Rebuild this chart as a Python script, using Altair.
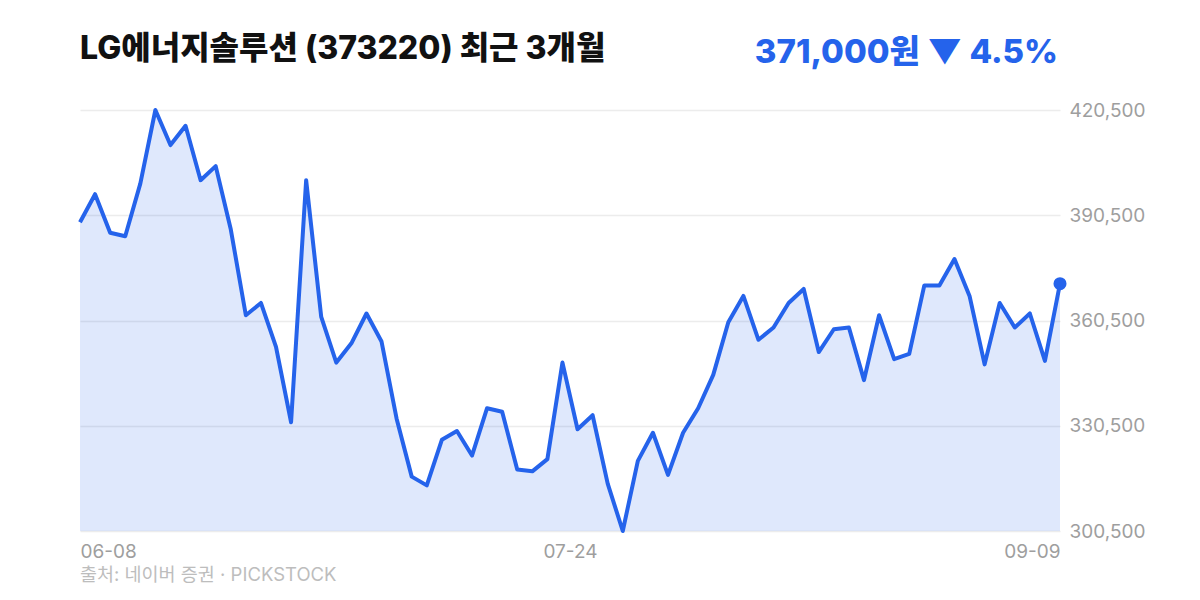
import altair as alt
import pandas as pd

# ---- data ----
prices = [
    388500, 396500, 385500, 384500, 399500, 420500, 410500, 416000, 400500, 404500,
    386500, 362000, 365500, 353000, 331500, 400500, 361500, 348500, 354000, 362500,
    354500, 332500, 316000, 313500, 326500, 329000, 322000, 335500, 334500, 318000,
    317500, 321000, 348500, 329500, 333500, 314000, 300500, 320500, 328500, 316500,
    328500, 335500, 345000, 360000, 367500, 355000, 358500, 365500, 369500, 351500,
    358000, 358500, 343500, 362000, 349500, 351000, 370500, 370500, 378000, 367500,
    348000, 365500, 358500, 362500, 349000, 371000,
]
tick_labels = ["06-08", "07-24", "09-09"]
tick_positions = [0, 32.5, 65]
y_ticks = [300500, 330500, 360500, 390500, 420500]

title_text = "LG에너지솔루션 (373220) 최근 3개월"
source_text = "출처: 네이버 증권 · PICKSTOCK"

# ---- derived tables ----
df = pd.DataFrame({"idx": list(range(len(prices))), "price": prices})
last_df = df.tail(1)
pct = (prices[-1] - prices[0]) / prices[0] * 100
arrow = "▼" if pct < 0 else "▲"
price_text = f"{prices[-1]:,}원 {arrow} {abs(pct):.1f}%"

FONT = "Inter, 'Noto Sans CJK KR', 'Noto Sans', sans-serif"
BLUE = "#2563eb"
GREY = "#9e9e9e"

label_expr = " : ".join(
    f"datum.value == {p} ? '{t}'" for p, t in zip(tick_positions[:-1], tick_labels[:-1])
) + f" : '{tick_labels[-1]}'"

x_enc = alt.X(
    "idx:Q",
    scale=alt.Scale(domain=[0, len(prices) - 1], nice=False, zero=False),
    axis=alt.Axis(
        values=tick_positions,
        labelExpr=label_expr,
        labelFlush=True,
        grid=False,
        domain=False,
        ticks=False,
        title=None,
        labelFontSize=19,
        labelColor=GREY,
        labelFont=FONT,
        labelPadding=11,
    ),
)
y_enc = alt.Y(
    "price:Q",
    scale=alt.Scale(domain=[min(prices), max(prices)], nice=False, zero=False),
    axis=alt.Axis(
        orient="right",
        values=y_ticks,
        format=",.0f",
        grid=True,
        gridColor="#ececec",
        gridWidth=1.5,
        domain=False,
        ticks=False,
        title=None,
        labelFontSize=19,
        labelColor=GREY,
        labelFont=FONT,
        labelPadding=9,
    ),
)

base = alt.Chart(df)

area = base.mark_area(color=BLUE, opacity=0.15).encode(
    x=x_enc, y=y_enc, y2=alt.datum(min(prices))
)
line = base.mark_line(color=BLUE, strokeWidth=4, strokeJoin="round").encode(
    x=x_enc, y=y_enc
)
dot = alt.Chart(last_df).mark_circle(color=BLUE, size=170, opacity=1).encode(
    x=x_enc, y=y_enc
)

title_mark = alt.Chart(pd.DataFrame({"t": [title_text]})).mark_text(
    align="left", baseline="alphabetic", font=FONT, fontSize=32, fontWeight=800,
    color="#111111",
).encode(text="t:N", x=alt.value(0), y=alt.value(-51))

price_mark = alt.Chart(pd.DataFrame({"t": [price_text]})).mark_text(
    align="right", baseline="alphabetic", font=FONT, fontSize=33, fontWeight=800,
    color=BLUE,
).encode(text="t:N", x=alt.value(978), y=alt.value(-47))

source_mark = alt.Chart(pd.DataFrame({"t": [source_text]})).mark_text(
    align="left", baseline="alphabetic", font=FONT, fontSize=18.5,
    color="#bdbdbd",
).encode(text="t:N", x=alt.value(0), y=alt.value(471))

chart = (
    alt.layer(area, line, dot, title_mark, price_mark, source_mark)
    .properties(
        width=980,
        height=421,
        autosize=alt.AutoSizeParams(type="none"),
        padding={"left": 72, "top": 102, "right": 130, "bottom": 55},
        background="white",
    )
    .configure_view(stroke=None)
)

chart.save("out.html", embed_options={"renderer": "svg", "actions": False})
